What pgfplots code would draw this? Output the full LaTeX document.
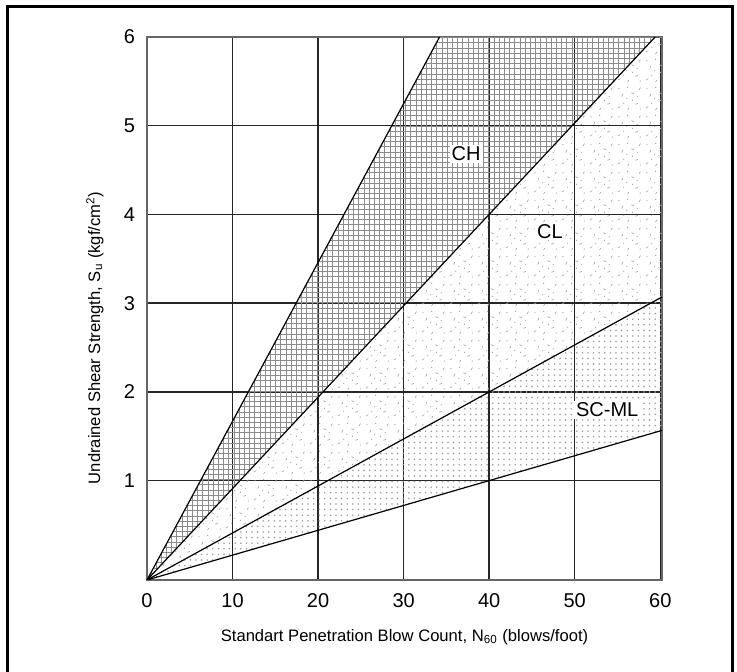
\documentclass[border=0pt]{standalone}
\usepackage{fontspec}
\setmainfont{Liberation Sans}
\usepackage{pgfplots}
\pgfplotsset{compat=1.18}
\usetikzlibrary{patterns}

\pgfdeclarepatternformonly{finegrid}{\pgfqpoint{-0.5pt}{-0.5pt}}{\pgfqpoint{3.1pt}{3.1pt}}{\pgfqpoint{2.6pt}{2.6pt}}{%
  \pgfsetlinewidth{0.4pt}%
  \pgfpathmoveto{\pgfqpoint{-0.2pt}{0pt}}\pgfpathlineto{\pgfqpoint{2.8pt}{0pt}}%
  \pgfpathmoveto{\pgfqpoint{0pt}{-0.2pt}}\pgfpathlineto{\pgfqpoint{0pt}{2.8pt}}%
  \pgfusepath{stroke}}

\pgfdeclarepatternformonly{fdots}{\pgfqpoint{-1pt}{-1pt}}{\pgfqpoint{2pt}{2pt}}{\pgfqpoint{2.8pt}{2.8pt}}{%
  \pgfpathcircle{\pgfqpoint{0pt}{0pt}}{0.45pt}%
  \pgfusepath{fill}}

\pgfdeclarepatternformonly{speckle}{\pgfqpoint{0pt}{0pt}}{\pgfqpoint{14pt}{14pt}}{\pgfqpoint{14pt}{14pt}}{%
  \pgfsetlinewidth{0.35pt}%
  \pgfpathmoveto{\pgfqpoint{1pt}{2pt}}\pgfpathlineto{\pgfqpoint{2.2pt}{2.8pt}}%
  \pgfpathmoveto{\pgfqpoint{6pt}{1pt}}\pgfpathlineto{\pgfqpoint{6.6pt}{2.1pt}}%
  \pgfpathmoveto{\pgfqpoint{10pt}{4pt}}\pgfpathlineto{\pgfqpoint{11.3pt}{4.4pt}}%
  \pgfpathmoveto{\pgfqpoint{3pt}{8pt}}\pgfpathlineto{\pgfqpoint{3.5pt}{9.3pt}}%
  \pgfpathmoveto{\pgfqpoint{8pt}{10pt}}\pgfpathlineto{\pgfqpoint{9.2pt}{9.4pt}}%
  \pgfpathmoveto{\pgfqpoint{12pt}{11.5pt}}\pgfpathlineto{\pgfqpoint{12.6pt}{12.6pt}}%
  \pgfusepath{stroke}%
  \pgfpathcircle{\pgfqpoint{4pt}{4.5pt}}{0.35pt}%
  \pgfpathcircle{\pgfqpoint{8.5pt}{6pt}}{0.35pt}%
  \pgfpathcircle{\pgfqpoint{12.5pt}{1.5pt}}{0.35pt}%
  \pgfpathcircle{\pgfqpoint{1.5pt}{12pt}}{0.35pt}%
  \pgfpathcircle{\pgfqpoint{6pt}{12.8pt}}{0.35pt}%
  \pgfpathcircle{\pgfqpoint{11pt}{8pt}}{0.35pt}%
  \pgfpathcircle{\pgfqpoint{5.5pt}{7pt}}{0.3pt}%
  \pgfusepath{fill}}

\begin{document}
\begin{tikzpicture}
\useasboundingbox (-73.5pt,-46pt) rectangle (295pt,290pt);
\begin{axis}[
  at={(0pt,0pt)}, anchor=south west,
  scale only axis, width=257.5pt, height=271.5pt,
  xmin=0, xmax=60.2, ymin=-0.12, ymax=6,
  xtick={0,10,...,60}, ytick={1,2,3,4,5,6},
  grid=major,
  major grid style={black!85, line width=0.75pt},
  axis line style={black!60, line width=0.8pt},
  major tick length=0pt,
  tick label style={font=\fontsize{10}{12}\selectfont},
  /pgf/number format/assume math mode=true,
  xticklabel style={yshift=-3pt},
  yticklabel style={xshift=-2.5pt},
  xlabel={Standart Penetration Blow Count, N\textsubscript{60} (blows/foot)},
  ylabel={Undrained Shear Strength, S\textsubscript{u} (kgf/cm\textsuperscript{2})},
  label style={font=\fontsize{8.3}{10}\selectfont},
  xlabel style={at={(axis description cs:0.5,0)}, anchor=center, yshift=-28.5pt},
  ylabel style={at={(axis description cs:-0.101,0.446)}, anchor=center},
]
% CH region
\addplot[draw=none, pattern=finegrid, pattern color=black!45] coordinates {(0,-0.12) (34.2,6) (59.4,6) (0,-0.12)};
% CL region
\addplot[draw=none, pattern=speckle, pattern color=black!35] coordinates {(0,-0.12) (59.4,6) (60.2,6) (60.2,3.07) (0,-0.12)};
% SC-ML region
\addplot[draw=none, pattern=fdots, pattern color=black!38] coordinates {(0,-0.12) (60.2,3.07) (60.2,1.566) (0,-0.12)};
% boundary lines
\addplot[black, line width=0.6pt] coordinates {(0,-0.12) (34.2,6)};
\addplot[black, line width=0.6pt] coordinates {(0,-0.12) (59.4,6)};
\addplot[black, line width=0.6pt] coordinates {(0,-0.12) (60.2,3.07)};
\addplot[black, line width=0.6pt] coordinates {(0,-0.12) (60.2,1.566)};
\node[fill=white, inner sep=1pt, font=\fontsize{10}{12}\selectfont] at (axis cs:37.3,4.68) {CH};
\node[fill=white, inner sep=1pt, font=\fontsize{10}{12}\selectfont] at (axis cs:47.1,3.81) {CL};
\node[fill=white, inner sep=1pt, font=\fontsize{10}{12}\selectfont] at (axis cs:53.8,1.80) {SC-ML};
\end{axis}
\draw[line width=1.5pt] (-69.5pt,-46pt) -- (-69.5pt,286.5pt) -- (292.5pt,286.5pt) -- (292.5pt,-46pt);
\end{tikzpicture}
\end{document}
